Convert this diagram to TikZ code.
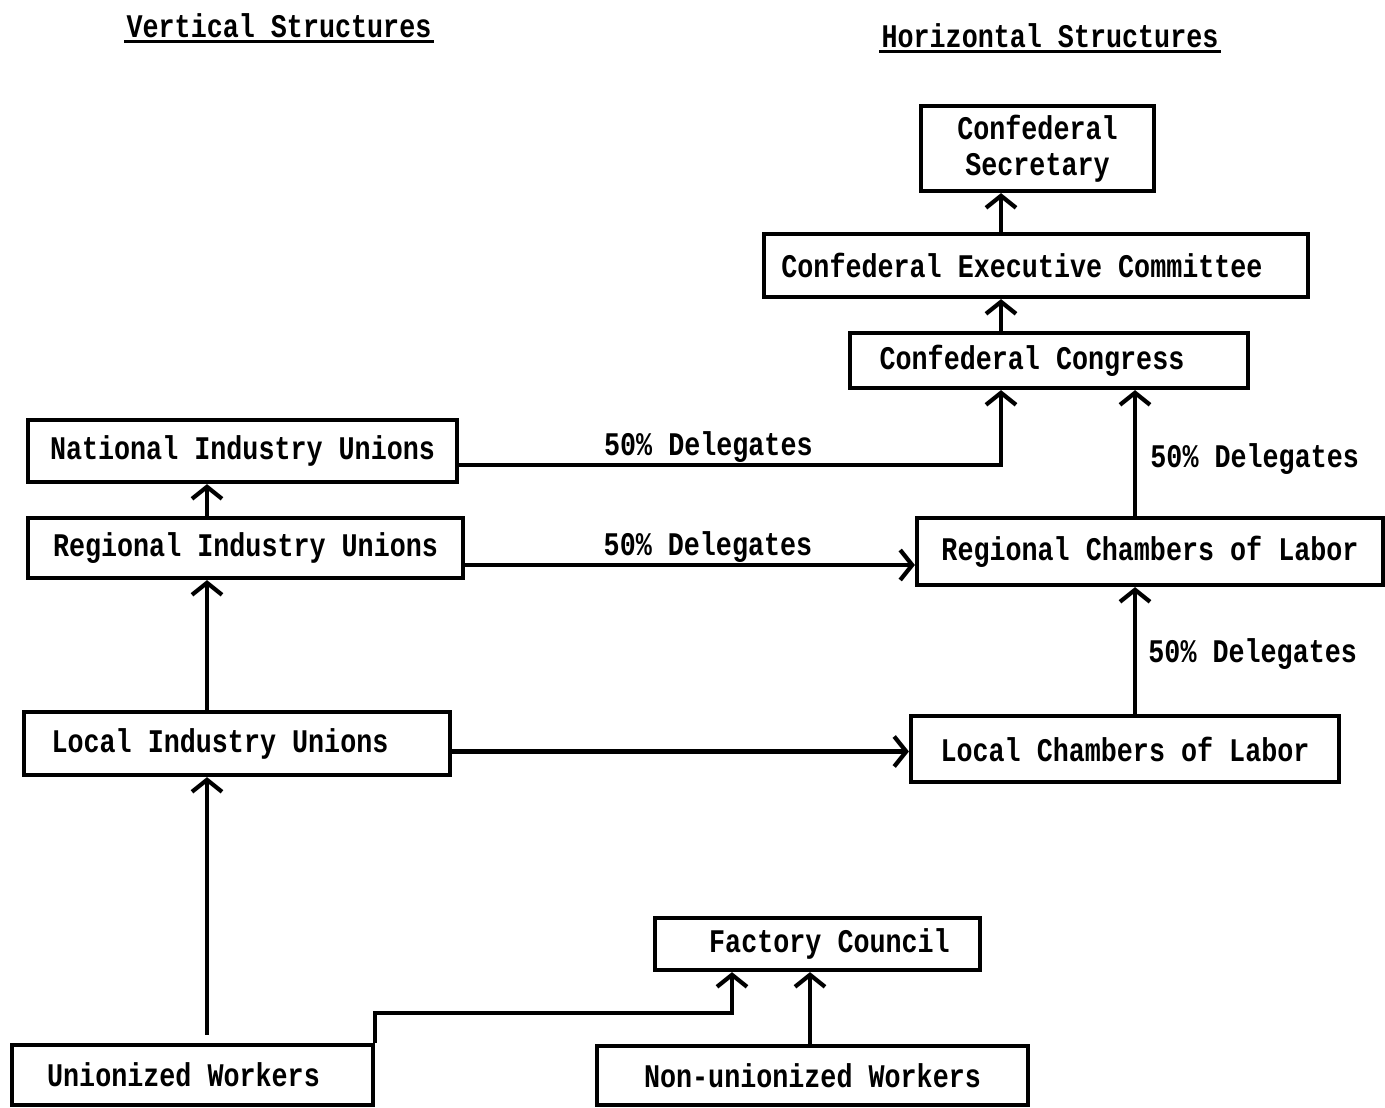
\documentclass[tikz,border=0pt]{standalone}
\usepackage{fontspec}
\newfontfamily\typefont[FakeStretch=0.81]{Liberation Mono}
\usetikzlibrary{arrows.meta}

\begin{document}
\begin{tikzpicture}[x=1pt, y=-1pt,
    font=\typefont\bfseries\fontsize{33}{36}\selectfont,
    box/.style={draw, line width=4.2pt, inner sep=0pt, align=center},
    arr/.style={line width=4.2pt, -{Straight Barb[length=12pt, width=30pt, line width=4.2pt]}},
    link/.style={line width=4.2pt},
    title/.style={inner sep=2pt}]
\useasboundingbox (0,0) rectangle (1385,1108);
% spines
\coordinate (cx) at (1001,0);
\coordinate (rx) at (1135,0);
\coordinate (lx) at (207,0);
\coordinate (fx) at (732,0);
\coordinate (nx) at (810,0);
% titles
\node[title] (vt) at (279,26) {Vertical Structures};
\node[title] (ht) at (1050,36) {Horizontal Structures};
\draw[link, line width=3.5pt] ([yshift=-1pt]vt.south west) -- ([yshift=-1pt]vt.south east);
\draw[link, line width=3.5pt] ([yshift=-1pt]ht.south west) -- ([yshift=-1pt]ht.south east);
% horizontal structures
\node[box, minimum width=233pt, minimum height=85pt] (sec) at (1037.5,148.5) {Confederal\\Secretary};
\node[box, minimum width=544pt, minimum height=63pt] (exec) at (1036,265.5) {\hspace*{-28pt}Confederal Executive Committee};
\node[box, minimum width=398pt, minimum height=55pt] (cong) at (1049,360.5) {\hspace*{-34pt}Confederal Congress};
\node[box, minimum width=466pt, minimum height=67pt] (rch) at (1150,551.5) {Regional Chambers of Labor};
\node[box, minimum width=428pt, minimum height=66pt] (lch) at (1125,749) {Local Chambers of Labor};
% vertical structures
\node[box, minimum width=429pt, minimum height=62pt] (nat) at (242.5,451) {National Industry Unions};
\node[box, minimum width=435pt, minimum height=60pt] (rind) at (245.5,548) {Regional Industry Unions};
\node[box, minimum width=426pt, minimum height=63pt] (lind) at (237,743.5) {\hspace*{-34pt}Local Industry Unions};
% workplace
\node[box, minimum width=325pt, minimum height=52pt] (fac) at (817.5,944) {\hspace*{24pt}Factory Council};
\node[box, minimum width=361pt, minimum height=60pt] (uni) at (192.5,1075) {\hspace*{-18pt}Unionized Workers};
\node[box, minimum width=431pt, minimum height=59pt] (non) at (812.5,1075.5) {Non-unionized Workers};
% connectors
\draw[arr] (exec.north -| cx) -- (sec.south -| cx);
\draw[arr] (cong.north -| cx) -- (exec.south -| cx);
\draw[arr] ([yshift=-14pt]nat.east) -| (cong.south -| cx)
    node[pos=0.23, above=-3pt] {50\% Delegates};
\draw[arr] ([yshift=-17pt]rind.east) -- ([yshift=-17pt]rind.east -| rch.west)
    node[pos=0.54, above=-3pt] {50\% Delegates};
\draw[arr] (rch.north -| rx) -- (cong.south -| rx)
    node[midway, right=10pt, yshift=-6pt] {50\% Delegates};
\draw[arr] (lch.north -| rx) -- (rch.south -| rx)
    node[midway, right=8pt, yshift=-4pt] {50\% Delegates};
\draw[arr] ([yshift=-8pt]lind.east) -- ([yshift=-8pt]lind.east -| lch.west);
\draw[arr] (rind.north -| lx) -- (nat.south -| lx);
\draw[arr] (lind.north -| lx) -- (rind.south -| lx);
\draw[arr, shorten <=8pt] (uni.north -| lx) -- (lind.south -| lx);
\draw[arr] (uni.north east) -- ++(0,-30) -| (fac.south -| fx);
\draw[arr] (non.north -| nx) -- (fac.south -| nx);
\end{tikzpicture}
\end{document}
